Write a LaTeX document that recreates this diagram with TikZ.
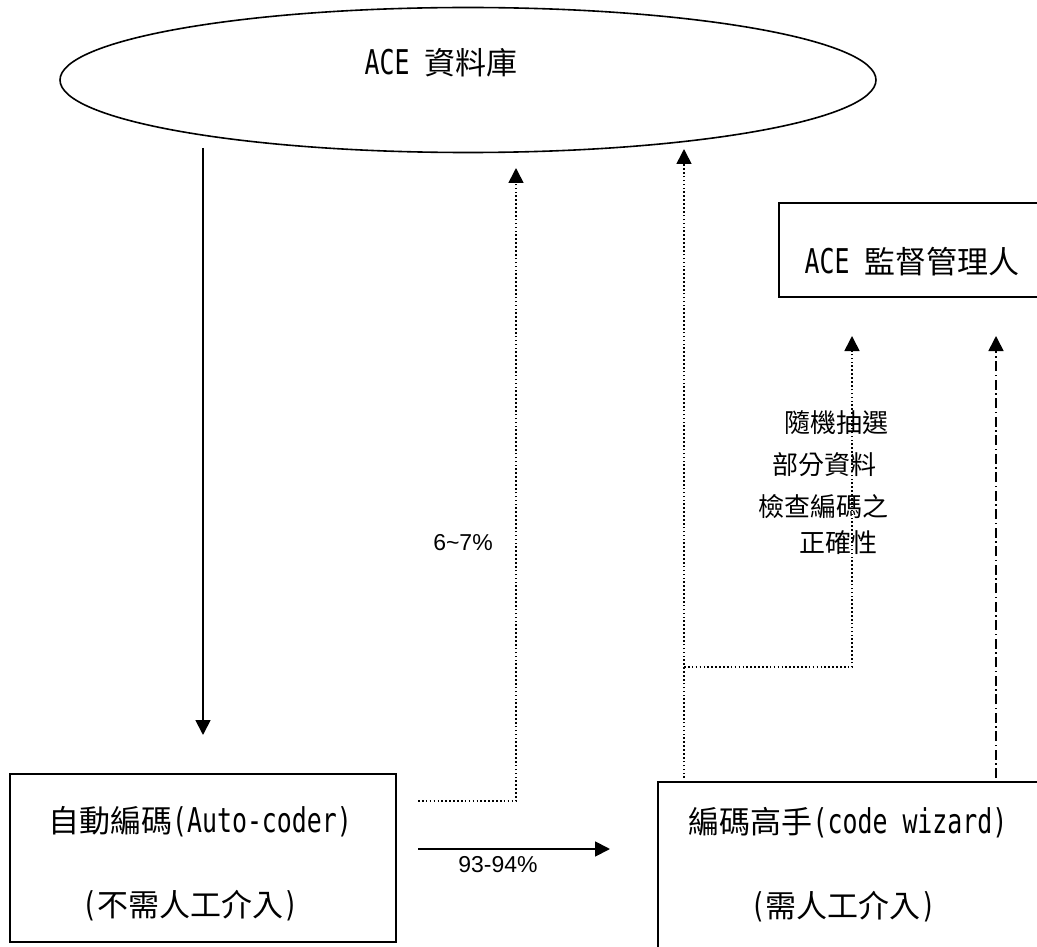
\documentclass[tikz,border=0pt]{standalone}
\usepackage{fontspec}
\setmainfont{Noto Sans CJK TC}
\newfontfamily\arialf{Liberation Sans}
\newfontfamily\latf[Scale=1.1,FakeStretch=0.73]{DejaVu Sans Mono}
\usetikzlibrary{arrows.meta,shapes.geometric}
\tikzset{
  every node/.style={inner sep=0pt, outer sep=0pt},
  box/.style={draw, line width=1.8pt, rectangle, anchor=north west},
  conn/.style={line width=1.8pt, -{Triangle[length=15pt,width=15pt]}},
  dots/.style={line width=1.6pt, dash pattern=on 1.6pt off 2.3pt},
  dashdot/.style={line width=1.6pt, dash pattern=on 10pt off 3.5pt on 1.5pt off 3.5pt},
  big/.style={font=\fontsize{31pt}{36pt}\selectfont},
  mid/.style={font=\fontsize{26pt}{30pt}\selectfont},
  pct/.style={font=\arialf\fontsize{23pt}{27pt}\selectfont},
}
\begin{document}
\begin{tikzpicture}[x=1pt,y=-1pt]
\useasboundingbox (0,0) rectangle (1037,947);
% database ellipse
\node[draw, ellipse, line width=1.6pt, minimum width=816pt, minimum height=145pt] (db) at (468,80) {};
\node[big] (dbt) at (441,63) {{\latf ACE }資料庫};
% supervisor box
\node[box, minimum width=280pt, minimum height=94pt] (sup) at (779,203) {};
\node[big] (supt) at (912,262) {{\latf ACE }監督管理人};
% auto-coder box
\node[box, minimum width=386pt, minimum height=168pt] (auto) at (10,774) {};
\node[big] (autot1) at (200,822) {自動編碼{\latf(Auto-coder)}};
\node[big] (autot2) at (190,906) {{\latf(}不需人工介入{\latf)}};
% code wizard box
\node[box, minimum width=400pt, minimum height=180pt] (wiz) at (658,782) {};
\node[big] (wizt1) at (848,823) {編碼高手{\latf(code wizard)}};
\node[big] (wizt2) at (843,907) {{\latf(}需人工介入{\latf)}};
% labels
\node[mid] (l1) at (836,423) {隨機抽選};
\node[mid] (l2) at (824,465) {部分資料};
\node[mid] (l3) at (823,507) {檢查編碼之};
\node[mid] (l4) at (838,543) {正確性};
\node[pct] (p1) at (463,543) {6\char`~7\%};
\node[pct] (p2) at (498,865) {93-94\%};
% coordinates
\coordinate (a0) at (203,148);
\coordinate (a1) at (203,735);
\coordinate (b0) at (418,801);
\coordinate (b1) at (516,801);
\coordinate (b2) at (516,168);
\coordinate (c0) at (684,778);
\coordinate (c1) at (684,149);
\coordinate (d0) at (684,667);
\coordinate (d1) at (852,667);
\coordinate (d2) at (852,336);
\coordinate (e0) at (996,778);
\coordinate (e1) at (996,336);
\coordinate (f0) at (418,849);
\coordinate (f1) at (610,849);
% connectors
\draw[conn] (a0) -- (a1);
\draw[conn, dots] (b0) -- (b1) -- (b2);
\draw[conn, dots] (c0) -- (c1);
\draw[conn, dots] (d0) -- (d1) -- (d2);
\draw[conn, dashdot] (e0) -- (e1);
\draw[conn] (f0) -- (f1);
\end{tikzpicture}
\end{document}
